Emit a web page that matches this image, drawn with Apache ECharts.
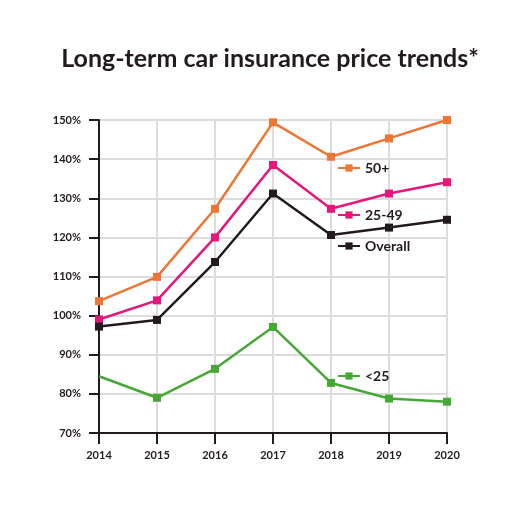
<!DOCTYPE html>
<html>
<head>
<meta charset="utf-8">
<script src="https://cdn.jsdelivr.net/npm/echarts@6/dist/echarts.min.js"></script>
<style>html,body{margin:0;padding:0;background:#fff;}#c{width:510px;height:511px;}</style>
</head>
<body>
<div id="c"></div>
<script>
const years = ['2014','2015','2016','2017','2018','2019','2020'];
const over50 = [103.7, 109.9, 127.3, 149.4, 140.6, 145.3, 150.0];
const age25to49 = [99.0, 103.9, 120.0, 138.5, 127.3, 131.2, 134.1];
const overall = [97.2, 98.9, 113.7, 131.2, 120.6, 122.5, 124.5];
const under25 = [84.5, 79.0, 86.4, 97.1, 82.8, 78.8, 78.0];
const seriesNames = ['50+', '25-49', 'Overall', '<25'];
const colors = ['#ee7534', '#e5177a', '#231a1f', '#45a835'];

const chart = echarts.init(document.getElementById('c'));
const dark = '#231a1f';
const font = 'Lato, "Open Sans", sans-serif';
function mkSeries(name, data, color, skipFirstSymbol) {
  return {
    name: name, type: 'line', data: data.map((v, i) => (skipFirstSymbol && i === 0) ? {value: v, symbol: 'none'} : v),
    symbol: 'rect', symbolSize: 8, showAllSymbol: true,
    lineStyle: {color: color, width: 2.5}, itemStyle: {color: color},
    emphasis: {disabled: true}, animation: false, z: 3
  };
}
function mkLegend(name, top) {
  return {
    data: [name], left: 337, top: top, padding: 0, itemWidth: 22, itemHeight: 9, itemGap: 6,
    textStyle: {color: dark, fontFamily: font, fontWeight: 'bold', fontSize: 14},
    selectedMode: false
  };
}
chart.setOption({
  backgroundColor: '#ffffff',
  animation: false,
  title: {
    text: 'Long-term car insurance price trends*', left: 265, top: 41, textAlign: 'center',
    textStyle: {color: dark, fontFamily: font, fontWeight: 'bold', fontSize: 25}
  },
  legend: [mkLegend(seriesNames[0], 161), mkLegend(seriesNames[1], 208), mkLegend(seriesNames[2], 239), mkLegend(seriesNames[3], 369)],
  grid: {left: 99, right: 63, top: 120, bottom: 78, containLabel: false},
  xAxis: {
    type: 'category', data: years, boundaryGap: false,
    axisLine: {lineStyle: {color: dark, width: 2}},
    axisTick: {show: true, length: 11, alignWithLabel: true, lineStyle: {color: dark, width: 2}},
    axisLabel: {color: dark, fontFamily: font, fontWeight: 'bold', fontSize: 11, margin: 17},
    splitLine: {show: true, lineStyle: {color: '#dcdcdc', width: 2}}
  },
  yAxis: {
    type: 'value', min: 70, max: 150, interval: 10,
    axisLine: {show: true, lineStyle: {color: dark, width: 2}},
    axisTick: {show: true, length: 10, lineStyle: {color: dark, width: 2}},
    axisLabel: {color: dark, fontFamily: font, fontWeight: 'bold', fontSize: 11, margin: 18, formatter: '{value}%'},
    splitLine: {show: true, lineStyle: {color: '#dcdcdc', width: 2}}
  },
  series: [
    mkSeries(seriesNames[0], over50, colors[0], false),
    mkSeries(seriesNames[1], age25to49, colors[1], false),
    mkSeries(seriesNames[2], overall, colors[2], false),
    mkSeries(seriesNames[3], under25, colors[3], true)
  ]
});
</script>
</body>
</html>
